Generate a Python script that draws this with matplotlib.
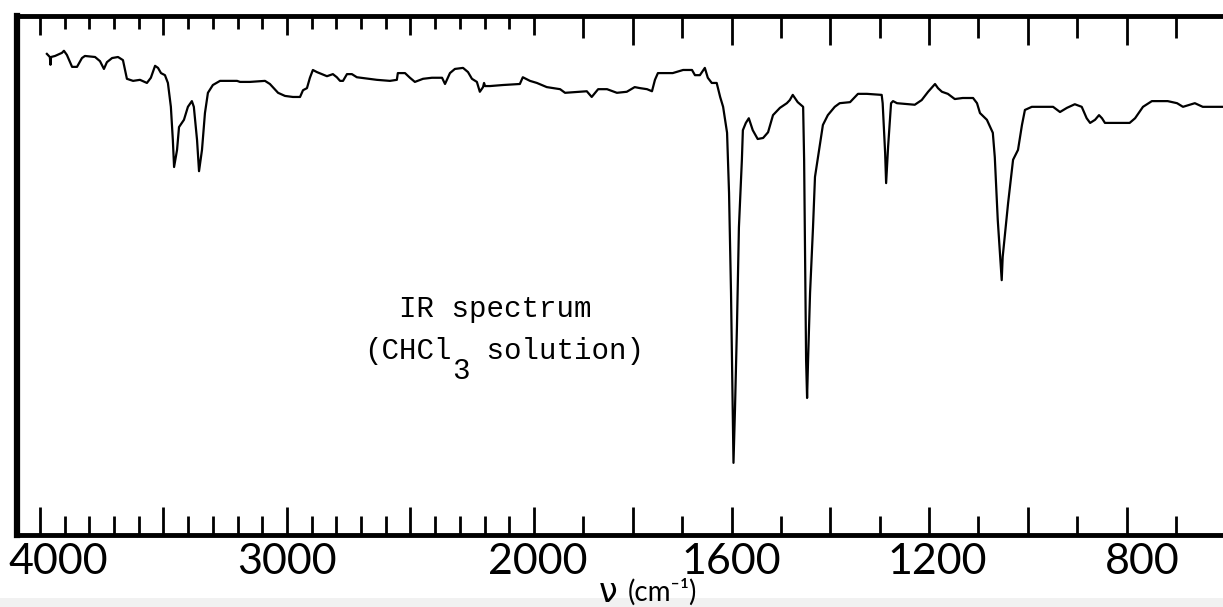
import numpy as np
import matplotlib
matplotlib.use('Agg')
import matplotlib.pyplot as plt
from matplotlib.patches import Rectangle
from matplotlib.transforms import ScaledTranslation

# IR spectrum, wavenumber (cm-1) vs transmittance (%)
wavenumber = [3972, 3960, 3957.5, 3955, 3939, 3911, 3903, 3891, 3870, 3850, 3830, 3818,
              3777, 3757, 3741, 3729, 3708, 3684, 3664, 3648, 3623, 3595, 3567, 3551,
              3534, 3522, 3510, 3494, 3482, 3470, 3462, 3457, 3445, 3437, 3417, 3401,
              3385, 3377, 3364, 3356, 3344, 3332, 3320, 3300, 3271, 3202, 3190, 3150,
              3089, 3069, 3036, 3008, 2976, 2947, 2935, 2919, 2907, 2895, 2879, 2838,
              2814, 2798, 2785, 2773, 2757, 2737, 2717, 2636, 2583, 2555, 2551, 2522,
              2502, 2482, 2449, 2413, 2372, 2360, 2340, 2320, 2287, 2267, 2251, 2231,
              2219, 2206, 2202, 2198, 2178, 2126, 2057, 2045, 2016,
              1994, 1974, 1947, 1937, 1907, 1893, 1883, 1870, 1852, 1832, 1812, 1796,
              1785, 1771, 1761, 1755, 1749, 1731, 1719, 1698, 1680, 1674, 1664, 1654,
              1648, 1640, 1630, 1623, 1617, 1609, 1605, 1601, 1597, 1596, 1593, 1589,
              1585, 1579, 1577, 1571, 1565, 1557, 1547, 1536, 1526, 1516, 1502, 1488,
              1482, 1476, 1466, 1455, 1453, 1451, 1449, 1447, 1445, 1441, 1435, 1431,
              1425, 1415, 1405, 1391, 1381, 1360, 1354, 1344, 1326, 1296, 1294, 1289,
              1287, 1283, 1277, 1273, 1265, 1229, 1215, 1202, 1188, 1182, 1174, 1162,
              1148, 1132, 1111, 1103, 1097, 1083, 1071, 1067, 1061, 1053, 1051, 1040,
              1030, 1020, 1012, 1006, 992, 976, 949, 935, 921, 905, 891, 881, 874, 864,
              856, 850, 844, 794, 783, 767, 749, 717, 698, 686, 672, 662, 646, 605]
transmittance = [92.7, 92.1, 90.6, 92.1, 92.3, 92.9, 93.3, 92.5, 90.2, 90.2, 91.9, 92.3,
                 92.1, 91.3, 89.8, 91.1, 91.9, 92.1, 91.5, 87.9, 87.5, 87.7, 87.1, 88.1,
                 90.4, 90.0, 89.0, 88.6, 87.1, 82.5, 76.1, 70.9, 74.2, 78.6, 80.0, 82.5,
                 83.6, 82.5, 76.1, 70.1, 74.2, 81.3, 85.2, 86.7, 87.5, 87.5, 87.3, 87.3,
                 87.5, 86.9, 85.2, 84.6, 84.4, 84.4, 85.7, 86.1, 88.1, 89.6, 89.2, 88.4,
                 88.8, 88.2, 87.5, 87.5, 88.8, 88.8, 88.2, 87.7, 87.5, 87.7, 89.0, 89.0,
                 88.1, 87.3, 87.9, 88.1, 88.1, 86.9, 89.0, 89.8, 90.0, 89.2, 87.9, 87.3,
                 85.4, 86.3, 87.1, 86.5, 86.5, 86.7, 86.9, 88.2, 87.5,
                 87.1, 86.3, 85.9, 85.2, 85.4, 85.5, 84.4, 85.9, 85.9, 85.2, 85.4, 86.3,
                 86.1, 85.9, 85.5, 87.7, 89.0, 89.0, 89.0, 89.6, 89.6, 88.6, 88.6, 90.0,
                 88.1, 87.1, 87.1, 84.4, 82.5, 77.5, 65.9, 46.6, 20.8, 13.9, 24.1, 40.1,
                 59.3, 72.3, 78.0, 79.4, 80.3, 78.0, 76.3, 76.5, 77.6, 80.9, 82.3, 83.2,
                 83.8, 84.8, 83.4, 82.5, 72.3, 53.0, 33.7, 26.4, 33.7, 46.6, 59.3, 69.0,
                 72.8, 79.0, 80.9, 82.5, 83.2, 83.4, 84.0, 85.0, 85.0, 84.8, 83.2, 73.6,
                 67.8, 74.8, 83.2, 83.6, 83.2, 82.9, 83.8, 85.4, 86.9, 86.1, 85.4, 85.0,
                 84.0, 84.2, 84.2, 83.2, 81.3, 80.0, 77.5, 72.8, 60.7, 49.1, 53.6, 64.0,
                 72.3, 74.2, 79.0, 81.9, 82.5, 82.5, 82.5, 81.5, 82.3, 83.0, 82.5, 80.3, 79.4, 80.0,
                 80.9, 80.3, 79.4, 79.4, 80.3, 82.5, 83.6, 83.6, 83.2, 82.5, 82.9, 83.2, 82.5, 82.5]

major_ticks = [4000, 3500, 3000, 2500, 2000, 1800, 1600, 1400, 1200, 1000, 800]
minor_ticks = [3900, 3800, 3700, 3600, 3400, 3300, 3200, 3100, 2900, 2800, 2700, 2600,
               2400, 2300, 2200, 2100, 1900, 1700, 1500, 1300, 1100, 900, 700]
tick_labels = ['4000', '', '3000', '', '2000', '', '1600', '', '1200', '', '800']
# horizontal nudge (px) of the printed numbers relative to their ticks
label_shift = [18, 0, 0, 0, 4, 0, 0, 0, 8, 0, 16]


# the chart paper doubles its scale below 2000 cm-1
def forward(v):
    v = np.asarray(v, dtype=float)
    return np.where(v >= 2000, v, 2 * v - 2000)


def inverse(s):
    s = np.asarray(s, dtype=float)
    return np.where(s >= 2000, s, (s + 2000) / 2)


W, H = 1223, 607


def px(x, y):
    return x / W, 1 - y / H


fig = plt.figure(figsize=(W / 100, H / 100), dpi=100)
fig.patches.append(Rectangle((0, 0), 1, 9 / H, transform=fig.transFigure,
                             facecolor='#f1f1f1', edgecolor='none', zorder=-1))

left, top, bottom = 17, 16, 535
ax = fig.add_axes([left / W, 1 - bottom / H, (W - left) / W, (bottom - top) / H])
ax.set_xscale('function', functions=(forward, inverse))
ax.set_xlim(4093, 605)
ax.set_ylim(0, 100)

ax.plot(wavenumber, transmittance, color='black', linewidth=1.6,
        solid_joinstyle='round')

ax.set_xticks(major_ticks, labels=tick_labels)
ax.set_xticks(minor_ticks, minor=True)
ax.set_yticks([])
ax.tick_params(axis='x', which='both', direction='in', bottom=True, top=False,
               width=2, color='black', labelsize=31, pad=6)
ax.tick_params(axis='x', which='major', length=20)
ax.tick_params(axis='x', which='minor', length=14)
for lab in ax.get_xticklabels():
    lab.set_family(['Lato', 'DejaVu Sans'])

for tick, dx in zip(ax.xaxis.get_major_ticks(), label_shift):
    if dx:
        tick.label1.set_transform(tick.label1.get_transform() +
                                  ScaledTranslation(dx / 100, 0, fig.dpi_scale_trans))

ax.spines['right'].set_visible(False)
ax.spines['left'].set_linewidth(4.5)
ax.spines['top'].set_linewidth(3.5)
ax.spines['bottom'].set_linewidth(3.5)
for s in ax.spines.values():
    s.set_capstyle('projecting')

# top edge ticks: short ones above 2000, longer ones below
top_sets = [([4000, 3500, 3000, 2500, 2000], [v for v in minor_ticks if v > 2000], 14, 9),
            ([1800, 1600, 1400, 1200, 1000, 800], [v for v in minor_ticks if v < 2000], 21, 16)]
for majors, minors, lmaj, lmin in top_sets:
    axt = ax.twiny()
    axt.set_xscale('function', functions=(forward, inverse))
    axt.set_xlim(ax.get_xlim())
    axt.set_xticks(majors, labels=[''] * len(majors))
    axt.set_xticks(minors, minor=True)
    axt.tick_params(axis='x', which='both', direction='in', top=True, bottom=False,
                    width=2, color='black', labeltop=False)
    axt.tick_params(axis='x', which='major', length=lmaj)
    axt.tick_params(axis='x', which='minor', length=lmin)
    for s in axt.spines.values():
        s.set_visible(False)

# annotation in typewriter style
mono = dict(family='Liberation Mono', fontsize=21, color='black')
fig.text(*px(495, 317), 'IR spectrum', ha='center', va='baseline', **mono)
fig.text(*px(452, 359), '(CHCl', ha='right', va='baseline', **mono)
fig.text(*px(452, 379), '3', ha='left', va='baseline', **mono)
fig.text(*px(469, 359), ' solution)', ha='left', va='baseline', **mono)

# axis title
fig.text(*px(608, 602), 'ν', ha='center', va='baseline', family='DejaVu Sans',
         fontsize=24)
fig.text(*px(628, 601), '(cm⁻¹)', ha='left', va='baseline',
         family=['Lato', 'DejaVu Sans'], fontsize=20)

fig.savefig('out.png', dpi=100)
